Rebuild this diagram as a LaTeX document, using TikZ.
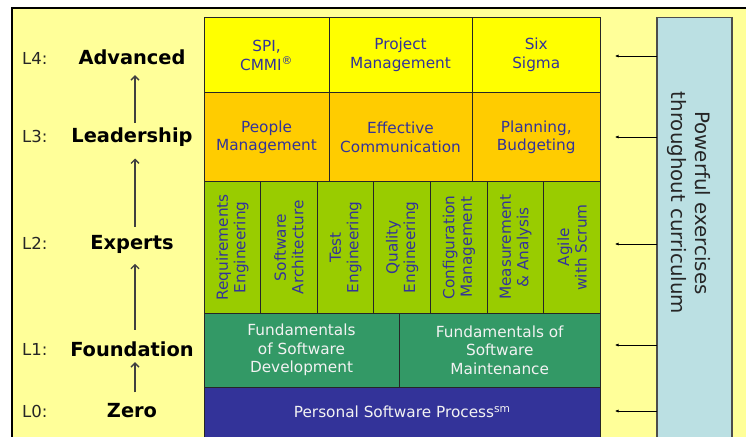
\documentclass[tikz,border=0pt]{standalone}
\usepackage{fontspec}
\setmainfont{DejaVu Sans}
\usetikzlibrary{arrows.meta,calc}
\definecolor{bgyellow}{HTML}{FFFF99}
\definecolor{rowyellow}{HTML}{FFFF00}
\definecolor{roworange}{HTML}{FFCC00}
\definecolor{rowgreen}{HTML}{99CC00}
\definecolor{rowdkgreen}{HTML}{339966}
\definecolor{rowblue}{HTML}{333399}
\definecolor{panelblue}{HTML}{BBE0E3}
\definecolor{txtblue}{HTML}{333399}
\definecolor{txtlight}{HTML}{F2F2F2}
\begin{document}
\begin{tikzpicture}[x=1pt,y=-1pt,
  cell/.style={draw=black!85, line width=1pt, inner sep=0pt, outer sep=0pt,
    align=center, text=txtblue, font=\fontsize{15.3}{18.7}\selectfont},
  ycell/.style={cell, fill=rowyellow, minimum height=75.2},
  ocell/.style={cell, fill=roworange, minimum height=89},
  gcell/.style={cell, fill=rowgreen, rotate=90, minimum width=131.3, minimum height=56.64,
    font=\fontsize{15.3}{17.5}\selectfont},
  dcell/.style={cell, fill=rowdkgreen, text=txtlight, minimum height=74},
  bcell/.style={cell, fill=rowblue, text=txtlight, minimum height=50},
  lvl/.style={inner sep=0pt, text height=14pt, text depth=4pt, anchor=base,
    font=\fontsize{19.4}{22}\selectfont\bfseries},
  lno/.style={inner sep=0pt, anchor=base west, text=black!85,
    font=\fontsize{16.5}{20}\selectfont},
  lvlarrow/.style={draw=black!75, line width=1.3pt, -{Straight Barb[length=4pt,width=8pt]}},
  sidearrow/.style={draw=black, line width=0.9pt, -{Latex[length=3.5pt,width=3.2pt]}}
]
\useasboundingbox (0,0) rectangle (746,436);
\clip (0,0) rectangle (746,436);
\fill[white] (0,0) rectangle (746,436);
\fill[bgyellow] (11.6,8.2) rectangle (760,450);
\draw[line width=1.8pt, black] (760,8.2) -- (11.6,8.2) -- (11.6,450);

% L4 row
\node[ycell, minimum width=125] (spi) at (266.5,55.1) {SPI,\\CMMI\textsuperscript{®}};
\node[ycell, minimum width=143] (pm) at (400.5,55.1) {Project\\Management};
\node[ycell, minimum width=128.5] (six) at (536.25,55.1) {Six\\Sigma};
% L3 row
\node[ocell, minimum width=125] (people) at (266.5,137.2) {People\\Management};
\node[ocell, minimum width=143] (comm) at (400.5,137.2) {Effective\\Communication};
\node[ocell, minimum width=128.5] (plan) at (536.25,137.2) {Planning,\\Budgeting};
% L2 row
\node[gcell] (req) at (232.32,247.35) {Requirements\\Engineering};
\node[gcell] (arch) at (288.96,247.35) {Software\\Architecture};
\node[gcell] (test) at (345.61,247.35) {Test\\Engineering};
\node[gcell] (qual) at (402.25,247.35) {Quality\\Engineering};
\node[gcell] (conf) at (458.89,247.35) {Configuration\\Management};
\node[gcell] (meas) at (515.54,247.35) {Measurement\\\& Analysis};
\node[gcell] (agile) at (572.18,247.35) {Agile\\with Scrum};
% L1 row
\node[dcell, minimum width=195] (fsd) at (301.5,350) {Fundamentals\\of Software\\Development};
\node[dcell, minimum width=201.5] (fsm) at (499.75,350) {Fundamentals of\\Software\\Maintenance};
% L0 row
\node[bcell, minimum width=396.5] (psp) at (402.25,412) {Personal Software Process\textsuperscript{sm}};

% right panel
\node[draw=black!70, line width=1.4pt, fill=panelblue, inner sep=0pt, outer sep=0pt,
  minimum width=75, minimum height=432.5] (pw) at (694.5,233.75) {};
\node[rotate=-90, align=center, text=black!85, inner sep=0pt,
  font=\fontsize{19.8}{24}\selectfont] (pwtext) at (689,203) {Powerful exercises\\throughout curriculum};

\coordinate (t4) at (615,56);
\coordinate (t3) at (615,137);
\coordinate (t2) at (615,244);
\coordinate (t1) at (615,345);
\coordinate (t0) at (615,411);
\foreach \t in {t4,t3,t2,t1,t0}{
  \draw[sidearrow] (pw.west |- \t) -- (\t);
}

% level labels
\node[lvl] (adv) at (132,64) {Advanced};
\node[lvl] (lead) at (132,142.3) {Leadership};
\node[lvl] (exp) at (132,249.7) {Experts};
\node[lvl] (fnd) at (132,356) {Foundation};
\node[lvl] (zero) at (132,417.5) {Zero};
\node[lno] (l4) at (22,64) {L4:};
\node[lno] (l3) at (22,142.3) {L3:};
\node[lno] (l2) at (22,249.7) {L2:};
\node[lno] (l1) at (22,355.5) {L1:};
\node[lno] (l0) at (22,417.5) {L0:};

\coordinate (ax) at (135,0);
\draw[lvlarrow, shorten <=5pt, shorten >=7pt] (lead.north -| ax) -- (adv.south -| ax);
\draw[lvlarrow, shorten <=9pt, shorten >=12pt] (exp.north -| ax) -- (lead.south -| ax);
\draw[lvlarrow, shorten <=12pt, shorten >=10pt] (fnd.north -| ax) -- (exp.south -| ax);
\draw[lvlarrow, shorten <=11pt, shorten >=2pt] (zero.north -| ax) -- (fnd.south -| ax);
\end{tikzpicture}
\end{document}
